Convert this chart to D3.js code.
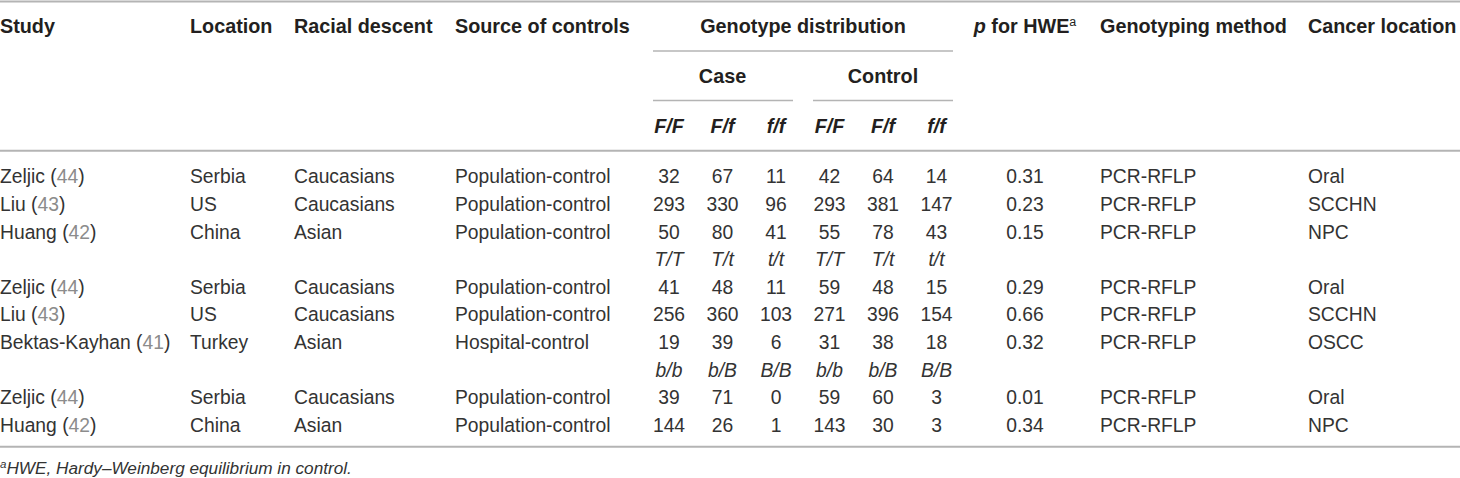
<!DOCTYPE html>
<html><head><meta charset="utf-8">
<script src="https://cdn.jsdelivr.net/npm/d3@7/dist/d3.min.js"></script>
<style>
html,body{margin:0;padding:0;background:#fff;}
svg{display:block;}
text{font-family:"Liberation Sans",Arial,Helvetica,sans-serif;}
</style></head>
<body>
<svg id="chart" width="1460" height="478"></svg>
<script>
// ---------- data ----------
const headers = ["Study","Location","Racial descent","Source of controls"];
const study = ["Zeljic","Liu","Huang","Zeljic","Liu","Bektas-Kayhan","Zeljic","Huang"];
const refNum = ["44","43","42","44","43","41","44","42"];
const locationCol = ["Serbia","US","China","Serbia","US","Turkey","Serbia","China"];
const racial = ["Caucasians","Caucasians","Asian","Caucasians","Caucasians","Asian","Caucasians","Asian"];
const sourceCtrl = ["Population-control","Population-control","Population-control","Population-control","Population-control","Hospital-control","Population-control","Population-control"];
const caseCounts = [[32,67,11],[293,330,96],[50,80,41],[41,48,11],[256,360,103],[19,39,6],[39,71,0],[144,26,1]];
const controlCounts = [[42,64,14],[293,381,147],[55,78,43],[59,48,15],[271,396,154],[31,38,18],[59,60,3],[143,30,3]];
const pHWE = ["0.31","0.23","0.15","0.29","0.66","0.32","0.01","0.34"];
const method = ["PCR-RFLP","PCR-RFLP","PCR-RFLP","PCR-RFLP","PCR-RFLP","PCR-RFLP","PCR-RFLP","PCR-RFLP"];
const cancerLoc = ["Oral","SCCHN","NPC","Oral","SCCHN","OSCC","Oral","NPC"];
const genotypeLabels = [["F/F","F/f","f/f"],["T/T","T/t","t/t"],["b/b","b/B","B/B"]];
const groupSizes = [3,3,2];
const footnote = "HWE, Hardy\u2013Weinberg equilibrium in control.";

// ---------- layout ----------
const W = 1460, H = 478;
const FS = 19.3, HFS = 19.8;
const ink = "#231f20", bodyInk = "#333333", refGray = "#8c8c8c", ruleGray = "#b4b4b4";
const leftX = [0, 190, 294, 455];
const pX = 1025, methodX = 1100, cancerX = 1308;

const svg = d3.select("#chart");

// build row list: label rows (except the first, which sits in the header) + data rows
const rows = [];
let di = 0;
groupSizes.forEach((n, g) => {
  if (g > 0) rows.push({type: "label", g});
  for (let k = 0; k < n; k++) rows.push({type: "data", i: di++});
});

const yRow = d3.scaleLinear().domain([0, rows.length - 1]).range([183.3, 431.7]);
const xGeno = d3.scalePoint().domain(d3.range(6)).range([669, 936.5]);

// rules
const rules = [
  {x1: 0, x2: W, y: 1.5, w: 2.2},
  {x1: 653, x2: 953, y: 51, w: 1.6},
  {x1: 653, x2: 793, y: 100.5, w: 1.6},
  {x1: 813, x2: 953, y: 100.5, w: 1.6},
  {x1: 0, x2: W, y: 150.8, w: 2},
  {x1: 0, x2: W, y: 446.7, w: 2}
];
svg.selectAll("line.rule").data(rules).join("line")
  .attr("x1", d => d.x1).attr("x2", d => d.x2)
  .attr("y1", d => d.y).attr("y2", d => d.y)
  .attr("stroke", ruleGray).attr("stroke-width", d => d.w);

// header row 1
const hdr = svg.append("g").attr("font-weight", "bold").attr("font-size", HFS).attr("fill", ink);
hdr.selectAll("text.h").data(headers).join("text")
  .attr("x", (d, i) => leftX[i]).attr("y", 33).text(d => d);
hdr.append("text").attr("x", 803).attr("y", 33).attr("text-anchor", "middle").text("Genotype distribution");
const ph = hdr.append("text").attr("x", pX).attr("y", 33).attr("text-anchor", "middle");
ph.append("tspan").attr("font-style", "italic").text("p");
ph.append("tspan").text(" for HWE");
ph.append("tspan").attr("font-size", 12.5).attr("font-weight", "normal").attr("dy", -7).text("a");
hdr.append("text").attr("x", methodX).attr("y", 33).text("Genotyping method");
hdr.append("text").attr("x", cancerX).attr("y", 33).text("Cancer location");
// header row 2
hdr.append("text").attr("x", (xGeno(0) + xGeno(2)) / 2).attr("y", 83.3).attr("text-anchor", "middle").text("Case");
hdr.append("text").attr("x", (xGeno(3) + xGeno(5)) / 2).attr("y", 83.3).attr("text-anchor", "middle").text("Control");
// header row 3: first genotype labels
hdr.selectAll("text.g0").data(genotypeLabels[0].concat(genotypeLabels[0])).join("text")
  .attr("class", "g0").attr("x", (d, i) => xGeno(i)).attr("y", 132.7)
  .attr("text-anchor", "middle").attr("font-style", "italic").text(d => d);

// body
const body = svg.append("g").attr("font-size", FS).attr("fill", bodyInk);
rows.forEach((r, ri) => {
  const y = yRow(ri);
  if (r.type === "label") {
    const labs = genotypeLabels[r.g].concat(genotypeLabels[r.g]);
    body.selectAll(null).data(labs).join("text")
      .attr("x", (d, i) => xGeno(i)).attr("y", y).attr("text-anchor", "middle")
      .attr("font-style", "italic").text(d => d);
    return;
  }
  const i = r.i;
  const st = body.append("text").attr("x", leftX[0]).attr("y", y);
  st.append("tspan").text(study[i] + " (");
  st.append("tspan").attr("fill", refGray).text(refNum[i]);
  st.append("tspan").text(")");
  body.append("text").attr("x", leftX[1]).attr("y", y).text(locationCol[i]);
  body.append("text").attr("x", leftX[2]).attr("y", y).text(racial[i]);
  body.append("text").attr("x", leftX[3]).attr("y", y).text(sourceCtrl[i]);
  body.selectAll(null).data(caseCounts[i].concat(controlCounts[i])).join("text")
    .attr("x", (d, k) => xGeno(k)).attr("y", y).attr("text-anchor", "middle").text(d => d);
  body.append("text").attr("x", pX).attr("y", y).attr("text-anchor", "middle").text(pHWE[i]);
  body.append("text").attr("x", methodX).attr("y", y).text(method[i]);
  body.append("text").attr("x", cancerX).attr("y", y).text(cancerLoc[i]);
});

// footnote
const fn = svg.append("text").attr("x", 0).attr("y", 474).attr("font-size", 17.2)
  .attr("font-style", "italic").attr("fill", bodyInk);
fn.append("tspan").attr("font-size", 11.5).attr("dy", -6.5).text("a");
fn.append("tspan").attr("dy", 6.5).text(footnote);
</script>
</body></html>
